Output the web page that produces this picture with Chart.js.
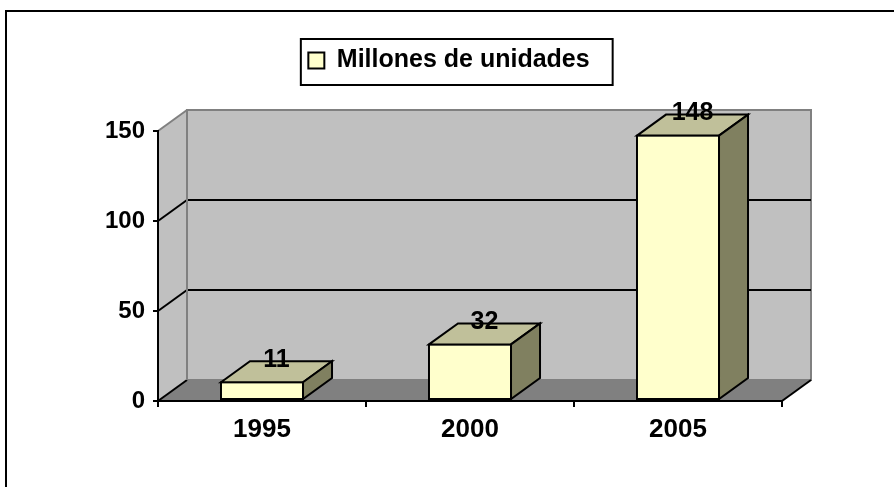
<!DOCTYPE html>
<html><head><meta charset="utf-8">
<script src="https://cdn.jsdelivr.net/npm/chart.js@4.4.1/dist/chart.umd.min.js"></script>
<style>html,body{margin:0;padding:0;background:#fff;overflow:hidden}#wrap{width:894px;height:487px;position:relative}</style>
</head><body><div id="wrap"><canvas id="c"></canvas></div>
<script>
const categories = ['1995', '2000', '2005'];
const values = [11, 32, 148];
const seriesLabel = 'Millones de unidades';
const yTickValues = [0, 50, 100, 150];

const FONT = '"Liberation Sans", Arial, Helvetica, sans-serif';
const DX = 29, DY = -21;
const COL = {front:'#FFFFCC', top:'#C0C09A', side:'#808060', wall:'#C0C0C0', floor:'#808080', edge:'#808080'};

function poly(ctx, pts, fill, stroke, lw) {
  ctx.beginPath();
  ctx.moveTo(pts[0][0], pts[0][1]);
  for (let i = 1; i < pts.length; i++) ctx.lineTo(pts[i][0], pts[i][1]);
  ctx.closePath();
  if (fill) { ctx.fillStyle = fill; ctx.fill(); }
  if (stroke) { ctx.strokeStyle = stroke; ctx.lineWidth = lw || 2; ctx.stroke(); }
}
function line(ctx, x1, y1, x2, y2, color, lw) {
  ctx.beginPath(); ctx.moveTo(x1, y1); ctx.lineTo(x2, y2);
  ctx.strokeStyle = color; ctx.lineWidth = lw || 2; ctx.stroke();
}

const threeD = {
  id: 'threeD',
  afterInit(chart) {
    const lg = chart.legend;
    if (lg && !lg._patched) {
      const orig = lg.fit;
      lg.fit = function () { orig.call(this); this.height += 48; };
      lg._patched = true;
    }
  },
  afterLayout(chart) {
    const lg = chart.legend;
    if (lg) { lg.left += 6; lg.right += 6; }
  },
  beforeDraw(chart) {
    const ctx = chart.ctx, y = chart.scales.y, a = chart.chartArea;
    const L = a.left, R = a.right;
    const T = y.getPixelForValue(yTickValues[yTickValues.length - 1]);
    const B = y.getPixelForValue(yTickValues[0]);
    ctx.save();
    ctx.lineJoin = 'miter';
    poly(ctx, [[L, B], [L + DX, B + DY], [L + DX, T + DY], [L, T]], COL.wall);
    poly(ctx, [[L + DX, T + DY], [R + DX, T + DY], [R + DX, B + DY], [L + DX, B + DY]], COL.wall, COL.edge, 2);
    poly(ctx, [[L, B], [R, B], [R + DX, B + DY], [L + DX, B + DY]], COL.floor);
    line(ctx, L + DX, B + DY, R + DX, B + DY, COL.edge, 2);
    line(ctx, R, B, R + DX, B + DY, '#000', 2);
    yTickValues.forEach((v, i) => {
      const py = y.getPixelForValue(v);
      const isMax = i === yTickValues.length - 1;
      const isMin = i === 0;
      if (!isMin && !isMax) line(ctx, L + DX, py + DY, R + DX, py + DY, '#000', 2);
      line(ctx, L, py, L + DX, py + DY, isMax ? COL.edge : '#000', 2);
    });
    line(ctx, L + DX, T + DY, L + DX, B + DY, COL.edge, 2);
    ctx.restore();
  },
  afterDatasetsDraw(chart) {
    const ctx = chart.ctx;
    const meta = chart.getDatasetMeta(0);
    ctx.save();
    ctx.lineJoin = 'miter';
    meta.data.forEach((el) => {
      const p = el.getProps(['x', 'y', 'base', 'width'], true);
      const xl = p.x - p.width / 2 + 1, xr = p.x + p.width / 2 - 1;
      const top = p.y + 1, base = p.base - 1;
      poly(ctx, [[xl, top], [xl + DX, top + DY], [xr + DX, top + DY], [xr, top]], COL.top, '#000', 2);
      poly(ctx, [[xr, top], [xr + DX, top + DY], [xr + DX, base + DY], [xr, base]], COL.side, '#000', 2);
    });
    ctx.fillStyle = '#000';
    ctx.font = 'bold 25px ' + FONT;
    ctx.textAlign = 'center';
    ctx.textBaseline = 'middle';
    meta.data.forEach((el, i) => {
      const p = el.getProps(['x', 'y'], true);
      ctx.fillText(String(values[i]), p.x + DX / 2, p.y + DY);
    });
    ctx.restore();
  },
  afterDraw(chart) {
    const ctx = chart.ctx;
    ctx.save();
    const lg = chart.legend;
    if (lg && lg.legendHitBoxes && lg.legendHitBoxes[0]) {
      const hb = lg.legendHitBoxes[0];
      ctx.strokeStyle = '#000'; ctx.lineWidth = 2;
      const l = hb.left - 7.5, t = hb.top - 9, r = hb.left + hb.width + 23, b = hb.top + hb.height + 12;
      ctx.strokeRect(l, t, r - l, b - t);
    }
    ctx.beginPath();
    ctx.moveTo(6, 500); ctx.lineTo(6, 11); ctx.lineTo(900, 11);
    ctx.strokeStyle = '#000'; ctx.lineWidth = 2; ctx.stroke();
    ctx.restore();
  }
};

new Chart(document.getElementById('c'), {
  type: 'bar',
  data: {
    labels: categories,
    datasets: [{
      label: seriesLabel,
      data: values,
      backgroundColor: COL.front,
      borderColor: '#000',
      borderWidth: 2,
      borderSkipped: false,
      categoryPercentage: 1,
      barPercentage: 0.404
    }]
  },
  options: {
    responsive: true,
    maintainAspectRatio: false,
    devicePixelRatio: 1,
    animation: false,
    events: [],
    layout: { padding: { left: 104, right: 112, top: 0, bottom: 0 } },
    plugins: {
      legend: {
        display: true, position: 'top', align: 'center',
        labels: { boxWidth: 16, boxHeight: 16, padding: 48, color: '#000',
          font: { family: FONT, size: 25, weight: 'bold' } }
      },
      tooltip: { enabled: false }
    },
    scales: {
      x: {
        type: 'category', offset: true,
        grid: { offset: true, drawOnChartArea: false, drawTicks: true, tickLength: 6, color: '#000', lineWidth: 2 },
        border: { display: true, color: '#000', width: 2 },
        ticks: { color: '#000', padding: 7, maxRotation: 0, autoSkip: false,
          font: { family: FONT, size: 26, weight: 'bold' } },
        afterFit(s) { s.height = 86; }
      },
      y: {
        type: 'linear', min: yTickValues[0], max: yTickValues[yTickValues.length - 1],
        afterBuildTicks(s) { s.ticks = yTickValues.map(v => ({ value: v })); },
        grid: { drawOnChartArea: false, drawTicks: true, tickLength: 5, color: '#000', lineWidth: 2 },
        border: { display: true, color: '#000', width: 2 },
        ticks: { color: '#000', padding: 8, font: { family: FONT, size: 24, weight: 'bold' } },
        afterFit(s) { s.width = 54; }
      }
    }
  },
  plugins: [threeD]
});
</script>
</body></html>
